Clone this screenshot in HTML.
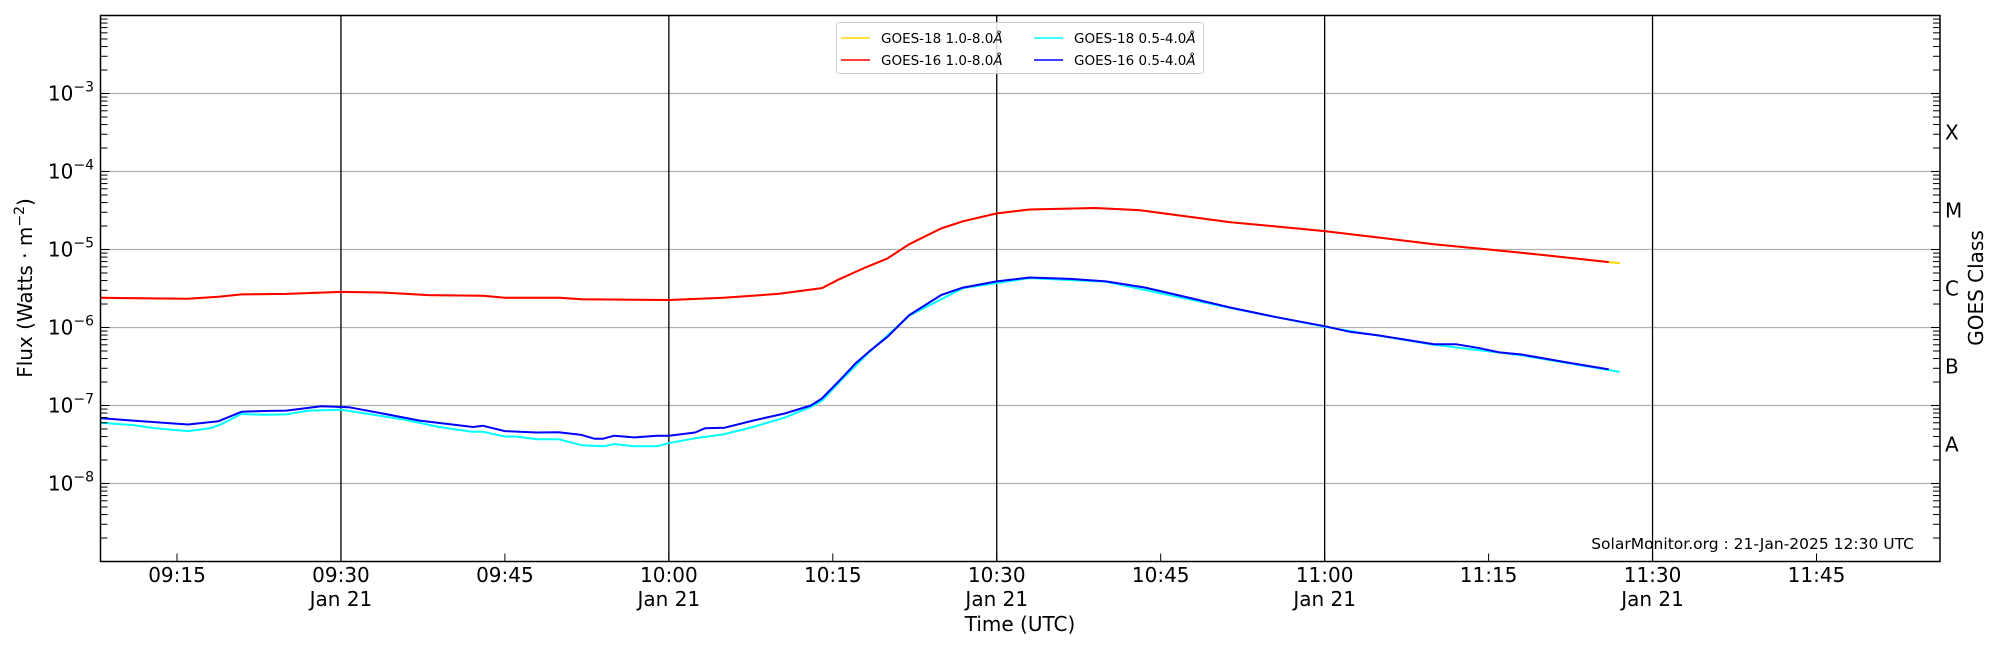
<!DOCTYPE html>
<html><head><meta charset="utf-8"><style>
html,body{margin:0;padding:0;background:#fff;}
svg{display:block;font-family:"DejaVu Sans","Liberation Sans",sans-serif;}
</style></head><body>
<svg id="chart" width="2000" height="650" viewBox="0 0 2000 650" xmlns="http://www.w3.org/2000/svg">
<g id="grid"></g>
<g id="vlines"></g>
<g id="series"></g>
<rect x="100.5" y="15.5" width="1839.5" height="546" fill="none" stroke="#000" stroke-width="1.5"/>
<g id="ticks"></g>
<g id="labels"></g>
<text transform="translate(32,288) rotate(-90)" text-anchor="middle" font-size="20">Flux (Watts · m<tspan font-size="14" dy="-8">−2</tspan><tspan dy="8">)</tspan></text>
<text transform="translate(1983,288) rotate(-90)" text-anchor="middle" font-size="20">GOES Class</text>
<text x="1020" y="631" text-anchor="middle" font-size="20">Time (UTC)</text>
<text x="1914" y="549" text-anchor="end" font-size="15.5">SolarMonitor.org : 21-Jan-2025 12:30 UTC</text>
<g>
<rect x="836.5" y="22.5" width="367" height="51" rx="3" fill="#fff" fill-opacity="0.85" stroke="#ccc"/>
<line x1="841" y1="38" x2="870" y2="38" stroke="#ffd700" stroke-width="1.5"/>
<text x="881" y="43" font-size="13.5">GOES-18 1.0-8.0<tspan font-style="italic">Å</tspan></text>
<line x1="841" y1="60" x2="870" y2="60" stroke="#ff0000" stroke-width="1.5"/>
<text x="881" y="65" font-size="13.5">GOES-16 1.0-8.0<tspan font-style="italic">Å</tspan></text>
<line x1="1034" y1="38" x2="1063" y2="38" stroke="#00ffff" stroke-width="1.5"/>
<text x="1074" y="43" font-size="13.5">GOES-18 0.5-4.0<tspan font-style="italic">Å</tspan></text>
<line x1="1034" y1="60" x2="1063" y2="60" stroke="#0000ff" stroke-width="1.5"/>
<text x="1074" y="65" font-size="13.5">GOES-16 0.5-4.0<tspan font-style="italic">Å</tspan></text>
</g>
</svg>
<script>
// time in minutes after 09:00
const longT = [8,16,18.8,20.9,25,30,34,38,43,45,50,52,60,65,70,74,75.5,78,80,82,84.9,86.9,90,93,99,103,111.4,120,125,130,135,140,146];
const goes16Long = [2.4e-6,2.33e-6,2.48e-6,2.66e-6,2.7e-6,2.86e-6,2.8e-6,2.6e-6,2.55e-6,2.4e-6,2.4e-6,2.3e-6,2.25e-6,2.4e-6,2.7e-6,3.2e-6,4.1e-6,5.9e-6,7.7e-6,1.17e-5,1.86e-5,2.3e-5,2.9e-5,3.26e-5,3.4e-5,3.2e-5,2.24e-5,1.72e-5,1.42e-5,1.17e-5,1.0e-5,8.5e-6,6.9e-6];
const goes18LongT = [8,16,18.8,20.9,25,30,34,38,43,45,50,52,60,65,70,74,75.5,78,80,82,84.9,86.9,90,93,99,103,111.4,120,125,130,135,140,146,147];
const goes18Long = [2.4e-6,2.33e-6,2.48e-6,2.66e-6,2.7e-6,2.86e-6,2.8e-6,2.6e-6,2.55e-6,2.4e-6,2.4e-6,2.3e-6,2.25e-6,2.4e-6,2.7e-6,3.2e-6,4.1e-6,5.9e-6,7.7e-6,1.17e-5,1.86e-5,2.3e-5,2.9e-5,3.26e-5,3.4e-5,3.2e-5,2.24e-5,1.72e-5,1.42e-5,1.17e-5,1.0e-5,8.5e-6,6.9e-6,6.7e-6];
const shortT = [8,11,16,18.8,20.9,22.9,25,28.2,30.7,34,37.2,42.1,43,45,47.9,49.9,52,53.2,54,55,56.8,58.9,60,62.4,63.3,65.1,67.7,70.6,73,74,75.9,77.1,78.3,80,82,84.9,86.9,90,93,96.7,100,103.6,107.3,111.4,115.4,120,122.3,125,130,132,134,136,138,142,146];
const goes16Short = [6.9e-8,6.4e-8,5.7e-8,6.3e-8,8.3e-8,8.5e-8,8.6e-8,9.8e-8,9.5e-8,7.8e-8,6.4e-8,5.3e-8,5.5e-8,4.7e-8,4.5e-8,4.55e-8,4.2e-8,3.75e-8,3.75e-8,4.1e-8,3.9e-8,4.1e-8,4.1e-8,4.5e-8,5.1e-8,5.2e-8,6.4e-8,7.9e-8,1.0e-7,1.23e-7,2.3e-7,3.5e-7,4.9e-7,7.6e-7,1.44e-6,2.6e-6,3.25e-6,3.9e-6,4.37e-6,4.2e-6,3.9e-6,3.25e-6,2.46e-6,1.8e-6,1.37e-6,1.04e-6,8.8e-7,7.9e-7,6.1e-7,6.1e-7,5.5e-7,4.8e-7,4.5e-7,3.6e-7,2.9e-7];
const cyanT = [8,11,13,16,18,19,20.9,22.9,25,27,30,33,35.8,39,42,43,45,46,47.9,49.9,52,54,55,56.8,58.9,60,62.4,65.1,67.7,70.6,73,74,75.9,78.3,82,86.9,93,100,111.4,120,130,138,147];
const goes18Short = [6.0e-8,5.6e-8,5.1e-8,4.7e-8,5.1e-8,5.7e-8,7.8e-8,7.6e-8,7.7e-8,8.6e-8,8.8e-8,7.6e-8,6.6e-8,5.3e-8,4.6e-8,4.6e-8,4.0e-8,4.0e-8,3.7e-8,3.7e-8,3.1e-8,3.0e-8,3.2e-8,3.0e-8,3.0e-8,3.3e-8,3.8e-8,4.3e-8,5.3e-8,7.0e-8,9.6e-8,1.15e-7,2.2e-7,4.8e-7,1.42e-6,3.2e-6,4.3e-6,3.85e-6,1.78e-6,1.02e-6,6.0e-7,4.4e-7,2.7e-7];
const xTickMinutes = [15,30,45,60,75,90,105,120,135,150,165];
const xTickLabels = ["09:15","09:30","09:45","10:00","10:15","10:30","10:45","11:00","11:15","11:30","11:45"];
const dayLineMinutes = [30,60,90,120,150];
const yDecades = [-9,-8,-7,-6,-5,-4,-3,-2];
const yLabelDecades = [-8,-7,-6,-5,-4,-3];
const classLabels = ["A","B","C","M","X"];
const classDecades = [-8,-7,-6,-5,-4];

const NS="http://www.w3.org/2000/svg";
const L=100.5,R=1940,T=15.5,B=561.5;
const tMin=8, tMax=176.3;
function xs(t){return L+(t-tMin)/(tMax-tMin)*(R-L);}
function ys(v){const lg=Math.log10(v);return B-(lg+9)/7*(B-T);}
function mk(tag,attrs,parent){const e=document.createElementNS(NS,tag);for(const k in attrs)e.setAttribute(k,attrs[k]);parent.appendChild(e);return e;}
const grid=document.getElementById('grid'),vl=document.getElementById('vlines'),ser=document.getElementById('series'),tk=document.getElementById('ticks'),lb=document.getElementById('labels');

yLabelDecades.forEach(d=>{const y=ys(Math.pow(10,d));const g=mk('line',{x1:L,x2:R,y1:y,y2:y,stroke:'#b0b0b0','stroke-width':1.3},grid);

});
dayLineMinutes.forEach(m=>{const x=xs(m);const g=mk('line',{x1:x,x2:x,y1:T,y2:B,stroke:'#000','stroke-width':1.3},vl);

});

function line(ts,vs,color,name){const pts=ts.map((t,i)=>xs(t).toFixed(1)+','+ys(vs[i]).toFixed(1)).join(' ');
const p=mk('polyline',{points:pts,fill:'none',stroke:color,'stroke-width':2,'stroke-linejoin':'round'},ser);

}
line(goes18LongT,goes18Long,'#ffd700','goes18-long-line');
line(longT,goes16Long,'#ff0000','goes16-long-line');
line(cyanT,goes18Short,'#00ffff','goes18-short-line');
line(shortT,goes16Short,'#0000ff','goes16-short-line');

yDecades.forEach(d=>{for(let k=1;k<10;k++){const v=k*Math.pow(10,d);const y=ys(v);if(y<T-0.5||y>B+0.5)continue;const len=k===1?9:7;
mk('line',{x1:L,x2:L+len,y1:y,y2:y,stroke:'#000','stroke-width':1},tk);
mk('line',{x1:R,x2:R-len,y1:y,y2:y,stroke:'#000','stroke-width':1},tk);}});
xTickMinutes.forEach((m,i)=>{const x=xs(m);mk('line',{x1:x,x2:x,y1:B,y2:B-8,stroke:'#000','stroke-width':1},tk);
const t=mk('text',{x:x,y:582,'text-anchor':'middle','font-size':20},lb);t.textContent=xTickLabels[i];


if(dayLineMinutes.includes(m)){const t2=mk('text',{x:x,y:606,'text-anchor':'middle','font-size':20},lb);t2.textContent='Jan 21';

}});
yLabelDecades.forEach(d=>{const y=ys(Math.pow(10,d));const t=mk('text',{x:94,y:y+7,'text-anchor':'end','font-size':20},lb);


t.appendChild(document.createTextNode('10'));const s=mk('tspan',{'font-size':14,dy:-9},t);s.textContent='−'+Math.abs(d);});
classLabels.forEach((c,i)=>{const y=ys(Math.pow(10,classDecades[i]+0.5));const t=mk('text',{x:1945,y:y+7,'font-size':20},lb);t.textContent=c;

});
</script>
</body></html>
